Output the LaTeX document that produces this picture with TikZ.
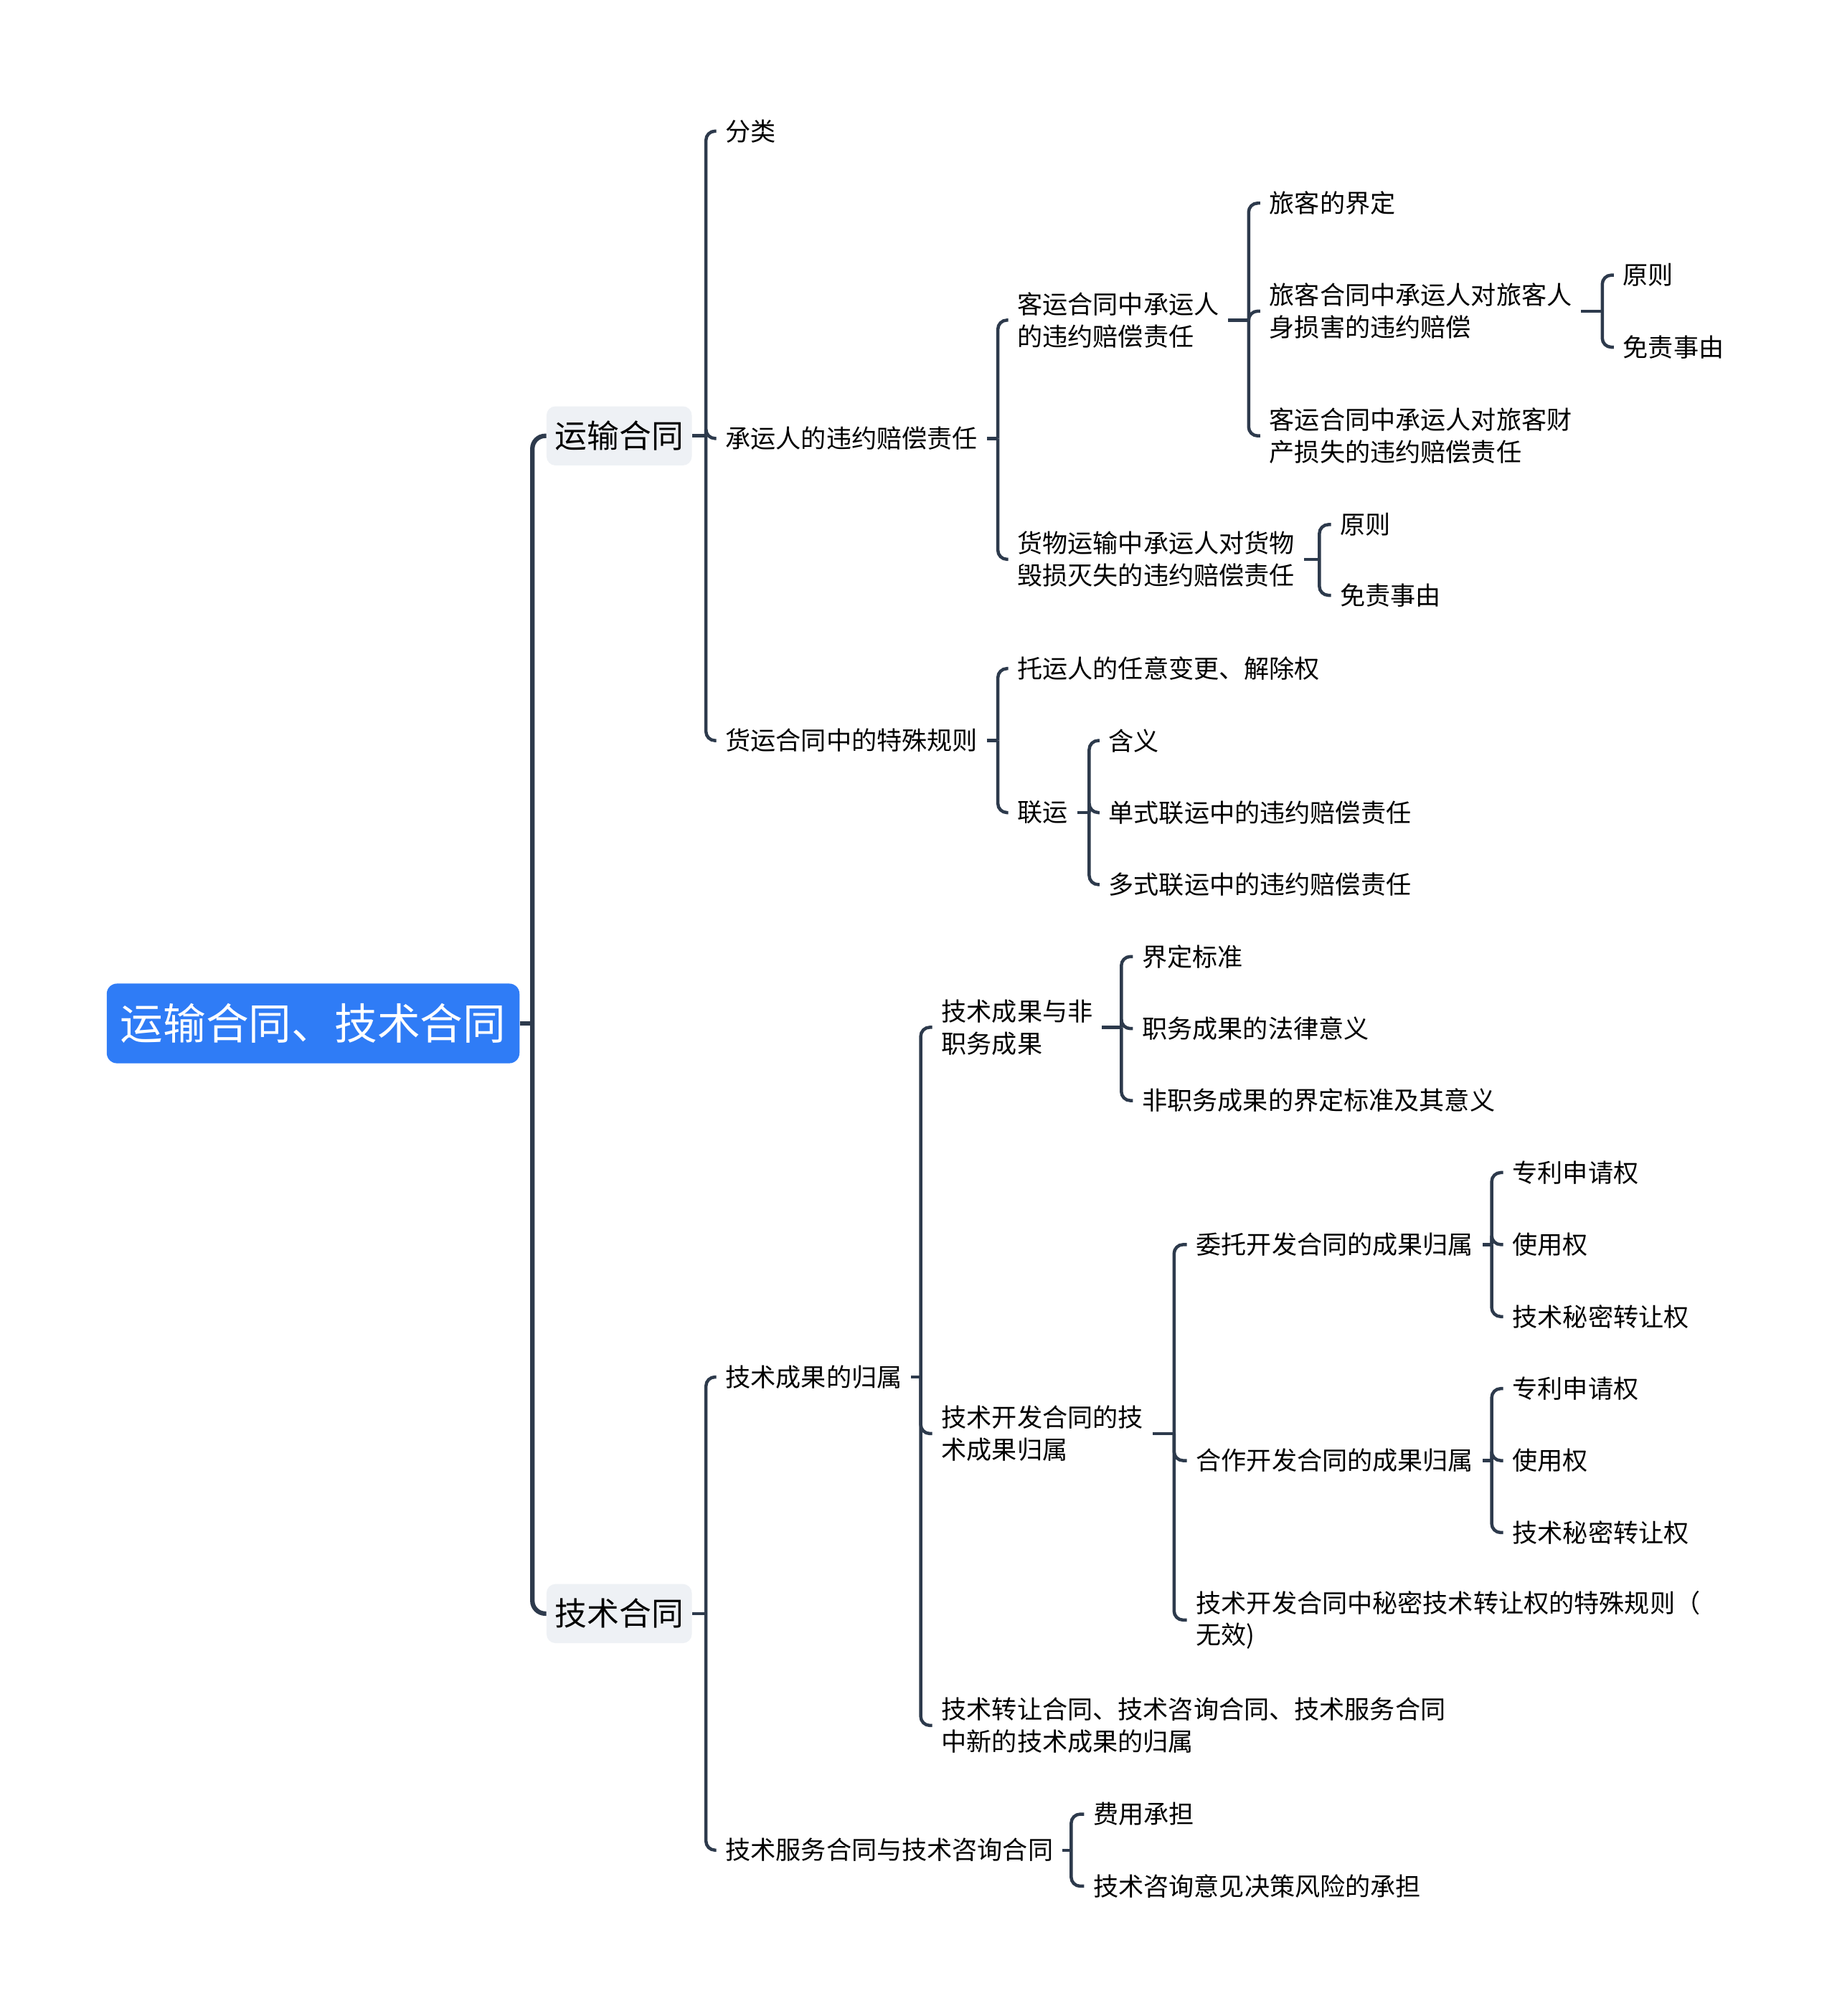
\documentclass[tikz,border=0pt]{standalone}
\usepackage{fontspec}
\setmainfont{Noto Sans CJK SC}
\definecolor{rootblue}{HTML}{2F7CF6}
\definecolor{subgrey}{HTML}{EEF1F5}
\definecolor{linkcol}{HTML}{2D3A4C}
\tikzset{
  topic/.style={fill=rootblue,text=white,rounded corners=8pt,minimum width=321pt,minimum height=62pt,
    inner sep=0pt,font=\fontsize{33.3pt}{40pt}\selectfont},
  maintopic/.style={fill=subgrey,rounded corners=7pt,minimum width=113pt,minimum height=46pt,
    inner sep=0pt,font=\fontsize{25pt}{30pt}\selectfont},
  leaf/.style={anchor=west,inner xsep=7pt,inner ysep=0pt,align=left,
    font=\fontsize{19.6pt}{25pt}\selectfont},
  link/.style={draw=linkcol,line width=2.5pt,rounded corners=7pt},
  trunk/.style={link,line width=3.5pt,rounded corners=10pt}
}
\newcommand\branch[4][link]{\draw[#1] (#2.east) -- (#3,0 |- #2.east);
  \foreach \c in {#4} \draw[#1] (#3,0 |- #2.east) |- (\c.west);}
\begin{document}
\begin{tikzpicture}[x=1pt,y=-1pt]
\useasboundingbox (0,0) rectangle (1428,1568);
\node[topic] (root) at (243.5,796) {运输合同、技术合同};
\node[maintopic] (ys) at (481.5,339) {运输合同};
\node[maintopic] (js) at (481.5,1255) {技术合同};

\node[leaf] (fenlei) at (557,102) {分类};
\node[leaf] (cyrwy) at (557,341) {承运人的违约赔偿责任};
\node[leaf] (hygz) at (557,576) {货运合同中的特殊规则};
\node[leaf] (kyzr) at (784,249) {客运合同中承运人\\的违约赔偿责任};
\node[leaf] (hwzr) at (784,435) {货物运输中承运人对货物\\毁损灭失的违约赔偿责任};
\node[leaf] (lkjd) at (980,158) {旅客的界定};
\node[leaf] (lkrs) at (980,242) {旅客合同中承运人对旅客人\\身损害的违约赔偿};
\node[leaf] (lkcc) at (980,339) {客运合同中承运人对旅客财\\产损失的违约赔偿责任};
\node[leaf] (yzA) at (1255,214) {原则};
\node[leaf] (mzA) at (1255,270) {免责事由};
\node[leaf] (yzB) at (1035,408) {原则};
\node[leaf] (mzB) at (1035,463) {免责事由};
\node[leaf] (tyr) at (784,520) {托运人的任意变更、解除权};
\node[leaf] (ly) at (784,632) {联运};
\node[leaf] (hanyi) at (855,576) {含义};
\node[leaf] (dsly) at (855,632) {单式联运中的违约赔偿责任};
\node[leaf] (dshly) at (855,688) {多式联运中的违约赔偿责任};

\node[leaf] (jsgs) at (557,1071) {技术成果的归属};
\node[leaf] (fwht) at (557,1439) {技术服务合同与技术咨询合同};
\node[leaf] (fzw) at (725,799) {技术成果与非\\职务成果};
\node[leaf] (kfgs) at (725,1115) {技术开发合同的技\\术成果归属};
\node[leaf] (zrxin) at (725,1342) {技术转让合同、技术咨询合同、技术服务合同\\中新的技术成果的归属};
\node[leaf] (jdbz) at (881,744) {界定标准};
\node[leaf] (zwfl) at (881,800) {职务成果的法律意义};
\node[leaf] (fzwjd) at (881,856) {非职务成果的界定标准及其意义};
\node[leaf] (wtkf) at (923,968) {委托开发合同的成果归属};
\node[leaf] (hzkf) at (923,1136) {合作开发合同的成果归属};
\node[leaf] (tsgz) at (923,1260) {技术开发合同中秘密技术转让权的特殊规则（\\无效)};
\node[leaf] (zlA) at (1169,912) {专利申请权};
\node[leaf] (syA) at (1169,968) {使用权};
\node[leaf] (mmA) at (1169,1024) {技术秘密转让权};
\node[leaf] (zlB) at (1169,1080) {专利申请权};
\node[leaf] (syB) at (1169,1136) {使用权};
\node[leaf] (mmB) at (1169,1192) {技术秘密转让权};
\node[leaf] (fycd) at (843,1411) {费用承担};
\node[leaf] (zxfx) at (843,1467) {技术咨询意见决策风险的承担};

\branch[trunk]{root}{414}{ys,js}
\branch{ys}{549}{fenlei,cyrwy,hygz}
\branch{cyrwy}{776}{kyzr,hwzr}
\branch{kyzr}{971}{lkjd,lkrs,lkcc}
\branch{lkrs}{1246}{yzA,mzA}
\branch{hwzr}{1026}{yzB,mzB}
\branch{hygz}{776}{tyr,ly}
\branch{ly}{847}{hanyi,dsly,dshly}
\branch{js}{549}{jsgs,fwht}
\branch{jsgs}{716}{fzw,kfgs,zrxin}
\branch{fzw}{872}{jdbz,zwfl,fzwjd}
\branch{kfgs}{913}{wtkf,hzkf,tsgz}
\branch{wtkf}{1160}{zlA,syA,mmA}
\branch{hzkf}{1160}{zlB,syB,mmB}
\branch{fwht}{833}{fycd,zxfx}
\end{tikzpicture}
\end{document}
